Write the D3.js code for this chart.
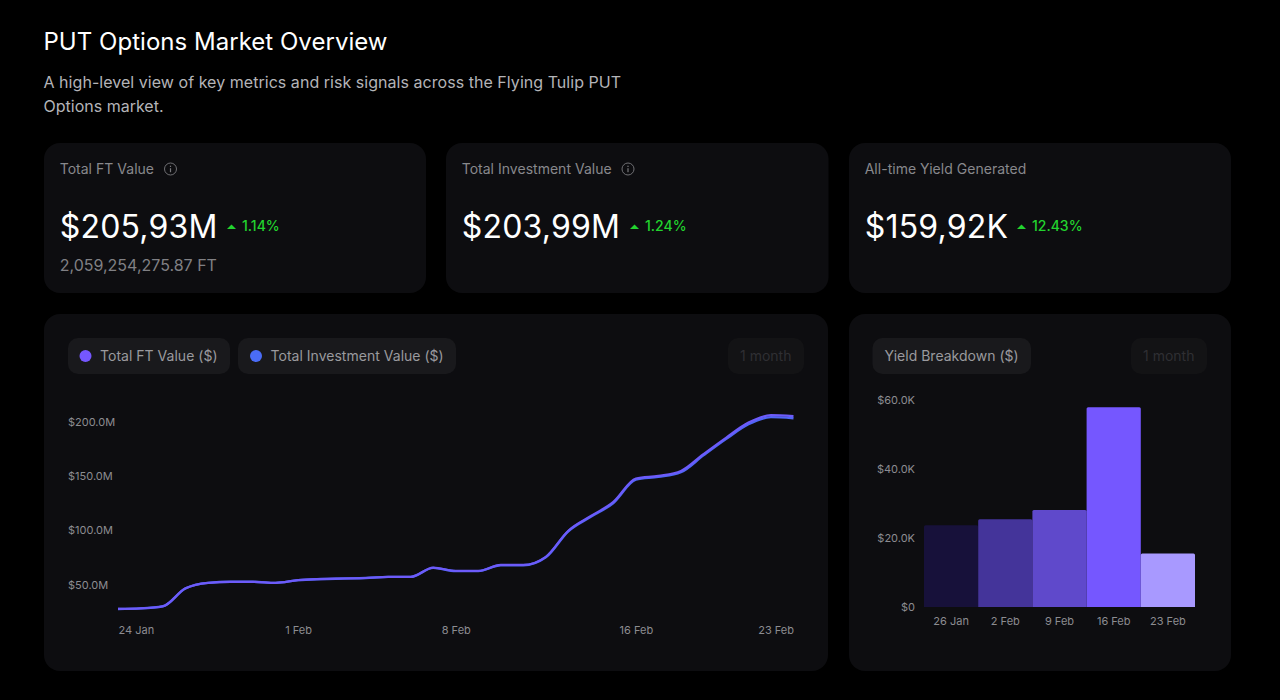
<!DOCTYPE html>
<html>
<head>
<meta charset="utf-8">
<script src="https://cdn.jsdelivr.net/npm/d3@7"></script>
<style>
html,body{margin:0;padding:0;background:#000;overflow:hidden}
svg{display:block}
text{font-family:Inter,"Noto Sans",sans-serif}
</style>
</head>
<body>
<div id="chart"></div>
<script>
// line chart, one value per day from 24 Jan, in $M
var lineDates = ["2025-01-24","2025-01-25","2025-01-26","2025-01-27","2025-01-28","2025-01-29","2025-01-30","2025-01-31","2025-02-01","2025-02-02","2025-02-03","2025-02-04","2025-02-05","2025-02-06","2025-02-07","2025-02-08","2025-02-09","2025-02-10","2025-02-11","2025-02-12","2025-02-13","2025-02-14","2025-02-15","2025-02-16","2025-02-17","2025-02-18","2025-02-19","2025-02-20","2025-02-21","2025-02-22","2025-02-23"];
var ftValues = [27.5,28,30,46.5,51.5,52.5,52.5,51.5,54,55,55.5,56,57,57,65.5,62.5,62.5,68,68,75.5,99.5,113,126,147.5,150,154.5,170,185,199,205.8,205];
var investValues = [27.5,28,30,46.5,51.5,52.5,52.5,51.5,54,55,55.5,56,57,57,65.3,62.3,62.3,67.7,67.7,75,99,112.3,125,146.5,149,153.3,168.8,183.8,197.5,204,203];
var lineTicks = [50,100,150,200];
var lineDateTicks = ["2025-01-24","2025-02-01","2025-02-08","2025-02-16","2025-02-23"];

// yield bars, $K
var barWeeks = ["26 Jan","2 Feb","9 Feb","16 Feb","23 Feb"];
var barValues = [23.7,25.4,28.1,57.9,15.5];
var barColors = ["#17113a","#44349a","#5f49cb","#7557ff","#a899ff"];
var barTicks = [0,20,40,60];

var statTitles = ["Total FT Value","Total Investment Value","All-time Yield Generated"];
var statValues = ["$205,93M","$203,99M","$159,92K"];
var statChanges = ["1.14%","1.24%","12.43%"];

var cardColor = "#0d0d10", pillColor = "#19191c";
var parse = d3.utcParse("%Y-%m-%d");

var svg = d3.select("#chart").append("svg").attr("width",1280).attr("height",700);

function card(x,y,w,h){
    svg.append("rect").attr("x",x).attr("y",y).attr("width",w).attr("height",h).attr("rx",16).attr("fill",cardColor);
}
function label(x,y,txt,size,color,weight){
    return svg.append("text").attr("x",x).attr("y",y).attr("font-size",size).attr("fill",color)
        .attr("font-weight",weight||400).text(txt);
}
function pill(x,y,w,h,color){
    svg.append("rect").attr("x",x).attr("y",y).attr("width",w).attr("height",h).attr("rx",10).attr("fill",color||pillColor);
}
function info(x,y){
    svg.append("circle").attr("cx",x).attr("cy",y).attr("r",6).attr("fill","none").attr("stroke","#6f6f73").attr("stroke-width",1);
    svg.append("rect").attr("x",x-0.6).attr("y",y-0.8).attr("width",1.2).attr("height",4).attr("fill","#77777b");
    svg.append("rect").attr("x",x-0.6).attr("y",y-3.3).attr("width",1.2).attr("height",1.3).attr("fill","#77777b");
}

// header
label(43.5,50,"PUT Options Market Overview",24,"#ffffff",400).attr("letter-spacing",0.03);
label(43.5,88,"A high-level view of key metrics and risk signals across the Flying Tulip PUT",16,"#b4b4b8").attr("letter-spacing",0.04);
label(43.5,112,"Options market.",16,"#b4b4b8");

// stat cards
var cardX = [44,446,849];
var changeX = [227,630,1017];
var infoX = [170.5,628,null];
cardX.forEach(function(x,i){
    card(x,143,i==1?382.5:382,150);
    label(x+15.7,174,statTitles[i],14,"#88888c").attr("letter-spacing",0.02);
    if(infoX[i]) info(infoX[i],169);
    label(x+15.7,238,statValues[i],32,"#ffffff",400).attr("letter-spacing",0.2);
    svg.append("path").attr("d","M"+changeX[i]+",229 l4.5,-4.5 l4.5,4.5 z").attr("fill","#22d32e");
    label(changeX[i]+15,231,statChanges[i],14,"#22d32e",500);
});
label(59.7,271,"2,059,254,275.87 FT",16,"#808084");

// chart cards
card(44,314,784,357);
card(849,314,382,357);

pill(68,338,162,36);
svg.append("circle").attr("cx",85.5).attr("cy",356).attr("r",6).attr("fill","#7557ff");
label(100,361,"Total FT Value ($)",14,"#9a9a9e").attr("letter-spacing",0.02);
pill(238,338,218,36);
svg.append("circle").attr("cx",256).attr("cy",356).attr("r",6).attr("fill","#4a6cf7");
label(270.5,361,"Total Investment Value ($)",14,"#9a9a9e").attr("letter-spacing",0.02);
pill(728,338,76,36,"#131315");
label(740,361,"1 month",14,"#2f2f33");

pill(872.5,338,158.5,36);
label(884.5,361,"Yield Breakdown ($)",14,"#9a9a9e").attr("letter-spacing",0.02);
pill(1131,338,76,36,"#131315");
label(1143,361,"1 month",14,"#2f2f33");

function styleAxis(g){
    g.select(".domain").remove();
    g.selectAll("text").attr("fill","#8c8c90").attr("font-size",11).attr("font-family","Inter,'Noto Sans',sans-serif");
}

// line chart
var x = d3.scaleUtc().domain([parse(lineDates[0]),parse(lineDates[lineDates.length-1])]).range([118,793.5]);
var y = d3.scaleLinear().domain([50,200]).range([584.5,421.5]);

var gy = svg.append("g").attr("transform","translate(68,0)")
    .call(d3.axisLeft(y).tickValues(lineTicks).tickSize(0).tickFormat(function(d){return "$"+d+".0M";}));
styleAxis(gy);
gy.selectAll("text").attr("text-anchor","start").attr("x",0);

var gx = svg.append("g").attr("transform","translate(0,623)")
    .call(d3.axisBottom(x).tickValues(lineDateTicks.map(parse)).tickSize(0).tickPadding(3).tickFormat(d3.utcFormat("%-d %b")));
styleAxis(gx);
gx.selectAll("text").attr("text-anchor",function(d,i){return i==0?"start":(i==lineDateTicks.length-1?"end":"middle");});

var line = d3.line()
    .x(function(d,i){return x(parse(lineDates[i]));})
    .y(function(d){return y(d);})
    .curve(d3.curveMonotoneX);

svg.append("path").datum(investValues).attr("d",line).attr("fill","none").attr("stroke","#4f66f5").attr("stroke-width",2.4);
svg.append("path").datum(ftValues).attr("d",line).attr("fill","none").attr("stroke","#6d5bfa").attr("stroke-width",2.2);

// bars
var bx = d3.scaleBand().domain(barWeeks).range([924,1195]).padding(0);
var by = d3.scaleLinear().domain([0,60]).range([607,400]);

var bgy = svg.append("g").attr("transform","translate(915,0)")
    .call(d3.axisLeft(by).tickValues(barTicks).tickSize(0).tickPadding(0).tickFormat(function(d){return d==0?"$0":"$"+d+".0K";}));
styleAxis(bgy);

var bgx = svg.append("g").attr("transform","translate(0,614)")
    .call(d3.axisBottom(bx).tickSize(0).tickPadding(3));
styleAxis(bgx);

svg.selectAll(".bar").data(barValues).enter().append("path")
    .attr("class","bar")
    .attr("fill",function(d,i){return barColors[i];})
    .attr("d",function(d,i){
        var x0 = bx(barWeeks[i]), w = bx.bandwidth(), t = by(d), b = by(0), r = 1.5;
        return "M"+x0+","+b+"V"+(t+r)+"Q"+x0+","+t+" "+(x0+r)+","+t+"H"+(x0+w-r)+"Q"+(x0+w)+","+t+" "+(x0+w)+","+(t+r)+"V"+b+"Z";
    });
</script>
</body>
</html>
